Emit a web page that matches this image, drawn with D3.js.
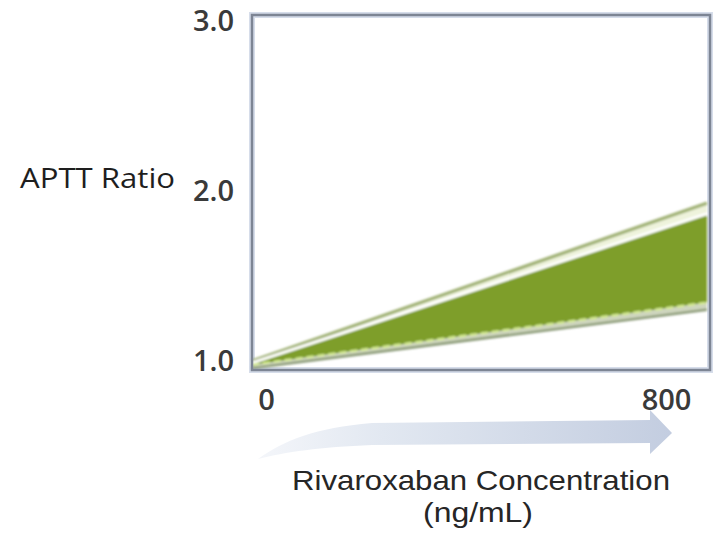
<!DOCTYPE html>
<html>
<head>
<meta charset="utf-8">
<script src="https://cdn.jsdelivr.net/npm/d3@7"></script>
<style>
  html, body { margin: 0; padding: 0; background: #ffffff; }
  svg { display: block; }
</style>
</head>
<body>
<svg id="chart" width="716" height="540"></svg>
<script>
// ---- data ----
const concentration = [0, 800];               // ng/mL
const upperOuter   = [1.05, 1.94];             // upper limit outline
const upperInner   = [1.04, 1.88];             // white line just inside the band
const lowerDashed  = [1.03, 1.38];             // dashed lower limit
const lowerEdge    = [1.01, 1.34];             // darker lower outline
const yTicks = [1.0, 2.0, 3.0];
const xTicks = [0, 800];
const yTitle = "APTT Ratio";
const xTitle1 = "Rivaroxaban Concentration";
const xTitle2 = "(ng/mL)";

const rows = concentration.map((c, i) => ({
  c, uo: upperOuter[i], ui: upperInner[i], ld: lowerDashed[i], le: lowerEdge[i]
}));

const svg = d3.select("#chart");
const FONT = "'Open Sans', 'Liberation Sans', sans-serif";
const FONT2 = "'Liberation Sans', Arial, sans-serif";

// plot frame
const frame = {left: 252, top: 15, right: 710, bottom: 370};

const x = d3.scaleLinear().domain([0, 800]).range([frame.left, 707]);
const y = d3.scaleLinear().domain([1, 3]).range([frame.bottom, frame.top]);
// label placement scales
const xLab = d3.scaleLinear().domain([0, 800]).range([266, 666]);
const yLab = d3.scaleLinear().domain([1, 3]).range([361, 21]);

const defs = svg.append("defs");
const grad = defs.append("linearGradient").attr("id", "arrowGrad")
  .attr("x1", "0%").attr("x2", "100%").attr("y1", "0%").attr("y2", "0%");
grad.append("stop").attr("offset", "0%").attr("stop-color", "#f4f6fa");
grad.append("stop").attr("offset", "30%").attr("stop-color", "#e2e8f1");
grad.append("stop").attr("offset", "100%").attr("stop-color", "#c3cde0");

const blur = defs.append("filter").attr("id", "soft").attr("x", "-5%").attr("y", "-50%")
  .attr("width", "110%").attr("height", "200%");
blur.append("feGaussianBlur").attr("stdDeviation", 0.8);

// frame glow + frame
svg.append("rect")
  .attr("x", frame.left).attr("y", frame.top)
  .attr("width", frame.right - frame.left).attr("height", frame.bottom - frame.top)
  .attr("fill", "#ffffff").attr("stroke", "#d6ddea").attr("stroke-width", 6);

// band
const g = svg.append("g").attr("filter", "url(#soft)");
g.append("path").datum(rows)
  .attr("d", d3.area().x(d => x(d.c)).y0(d => y(d.le)).y1(d => y(d.ld)))
  .attr("fill", "#b9c3a3").attr("opacity", 0.7);
g.append("path").datum(rows)
  .attr("d", d3.area().x(d => x(d.c)).y0(d => y(d.ld)).y1(d => y(d.ui)))
  .attr("fill", "#7e9e2b");
g.append("path").datum(rows)
  .attr("d", d3.area().x(d => x(d.c)).y0(d => y(d.ui)).y1(d => y(d.uo)))
  .attr("fill", "#eef3dc");
g.append("path").datum(rows)
  .attr("d", d3.line().x(d => x(d.c)).y(d => y(d.uo)))
  .attr("fill", "none").attr("stroke", "#a2b377").attr("stroke-width", 3.5);
g.append("path").datum(rows)
  .attr("d", d3.line().x(d => x(d.c)).y(d => y(d.ui)))
  .attr("fill", "none").attr("stroke", "#ffffff").attr("stroke-width", 3);
g.append("path").datum(rows)
  .attr("d", d3.line().x(d => x(d.c)).y(d => y(d.le)))
  .attr("fill", "none").attr("stroke", "#8f9e7c").attr("stroke-width", 2.5);
g.append("path").datum(rows)
  .attr("d", d3.line().x(d => x(d.c)).y(d => y(d.ld)))
  .attr("fill", "none").attr("stroke", "#d5ec91").attr("stroke-width", 2.2)
  .attr("stroke-dasharray", "7,4");

// frame stroke
svg.append("rect")
  .attr("x", frame.left).attr("y", frame.top)
  .attr("width", frame.right - frame.left).attr("height", frame.bottom - frame.top)
  .attr("fill", "none").attr("stroke", "#7d8594").attr("stroke-width", 2.5);

// y axis labels
const yAxis = svg.append("g").attr("transform", "translate(234,0)")
  .call(d3.axisLeft(yLab).tickValues(yTicks).tickFormat(d3.format(".1f")).tickSize(0).tickPadding(0));
yAxis.select(".domain").remove();
yAxis.selectAll("text").attr("font-family", FONT).attr("font-size", 29)
  .attr("fill", "#3a3a3a").attr("font-weight", 600);

// x axis labels
const xAxis = svg.append("g").attr("transform", "translate(0,389)")
  .call(d3.axisBottom(xLab).tickValues(xTicks).tickFormat(d3.format("d")).tickSize(0).tickPadding(0));
xAxis.select(".domain").remove();
xAxis.selectAll("text").attr("font-family", FONT).attr("font-size", 29)
  .attr("fill", "#3a3a3a").attr("font-weight", 600);

// y title
svg.append("text").attr("x", 20).attr("y", 188)
  .attr("font-family", FONT).attr("font-size", 27).attr("fill", "#1e1e1e")
  .attr("textLength", 155).attr("lengthAdjust", "spacingAndGlyphs")
  .text(yTitle);

// arrow
svg.append("path")
  .attr("d", "M258,459 C285,440 315,428 372,423 L650,420 L650,410 L672,433 L650,454 L650,443 L372,445 C320,447 285,452 258,459 Z")
  .attr("fill", "url(#arrowGrad)");

// x title
svg.append("text").attr("x", 292).attr("y", 490)
  .attr("font-family", FONT2).attr("font-size", 28).attr("fill", "#262626")
  .attr("textLength", 378).attr("lengthAdjust", "spacingAndGlyphs")
  .text(xTitle1);
svg.append("text").attr("x", 423).attr("y", 522)
  .attr("font-family", FONT2).attr("font-size", 28).attr("fill", "#262626")
  .attr("textLength", 110).attr("lengthAdjust", "spacingAndGlyphs")
  .text(xTitle2);
</script>
</body>
</html>
